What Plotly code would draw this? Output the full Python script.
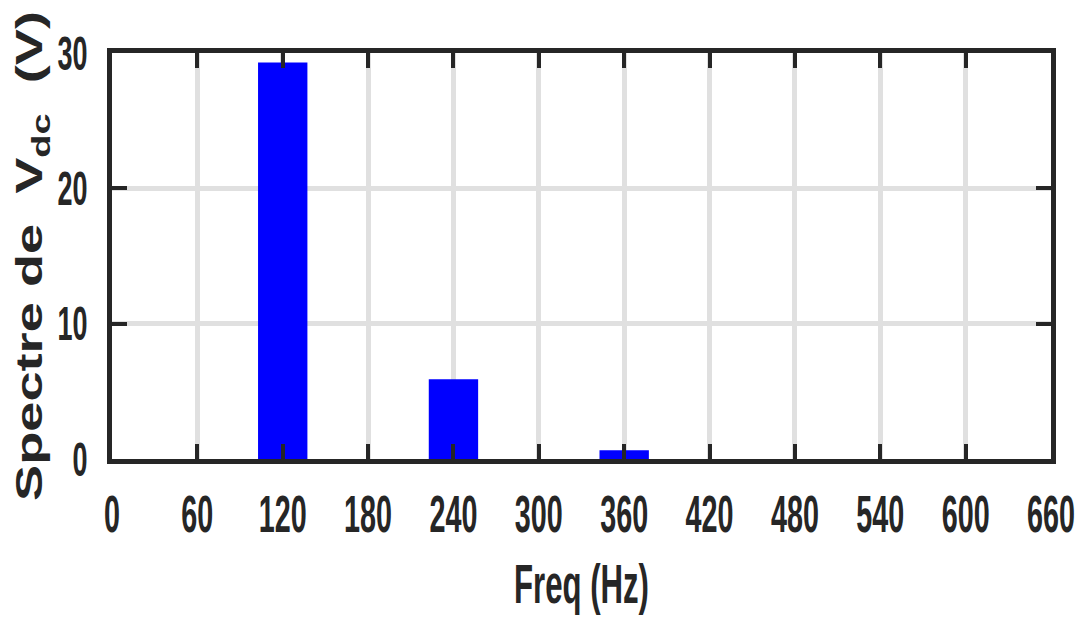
import plotly.graph_objects as go

# Harmonic spectrum of the DC-link voltage
freq_hz = [120, 240, 360]
amplitude_v = [29.3, 5.9, 0.64]
x_ticks = [0, 60, 120, 180, 240, 300, 360, 420, 480, 540, 600, 660]
y_ticks = [0, 10, 20, 30]

dark = "#262626"
sans = "Liberation Sans, Arial, Helvetica, sans-serif"

fig = go.Figure(
    go.Bar(
        x=freq_hz,
        y=amplitude_v,
        width=34.7,
        marker=dict(color="#0000ff", line=dict(width=0)),
    )
)

axis_common = dict(
    showline=True,
    linecolor=dark,
    linewidth=5,
    mirror="ticks",
    ticks="inside",
    ticklen=15,
    tickwidth=4,
    tickcolor=dark,
    showgrid=True,
    gridcolor="#e0e0e0",
    gridwidth=5,
    zeroline=False,
    automargin=False,
    tickangle=0,
    ticklabeloverflow="allow",
)

fig.update_xaxes(
    range=[0, 660],
    tickvals=x_ticks,
    ticktext=[str(v) for v in x_ticks],
    tickfont=dict(family=sans, size=52, color=dark, weight="bold"),
    ticklabelstandoff=6,
    title=dict(
        text="Freq (Hz)",
        font=dict(family=sans, size=56, color=dark, weight="bold"),
        standoff=23,
    ),
    **axis_common,
)
fig.update_yaxes(
    range=[0, 30],
    tickvals=y_ticks,
    ticktext=[str(v) for v in y_ticks],
    tickfont=dict(family=sans, size=48, color=dark, weight="bold"),
    ticklabelstandoff=10,
    title=dict(
        text="Spectre de  V<sub>dc</sub>  (V)",
        font=dict(family=sans, size=36, color=dark, weight="bold"),
        standoff=6,
    ),
    **axis_common,
)

fig.update_layout(
    width=1080,
    height=622,
    margin=dict(l=112, r=29, t=53, b=163),
    plot_bgcolor="white",
    paper_bgcolor="white",
    showlegend=False,
)

# Condensed tick and x-title lettering, widened y-title lettering
post_js = """
(function () {
  var gd = document.getElementById('{plot_id}');
  var shift = 'translate(9,0) ';
  function setLen(el, len) {
    if (!el) return;
    el.setAttribute('textLength', len);
    el.setAttribute('lengthAdjust', 'spacingAndGlyphs');
  }
  function fit() {
    gd.querySelectorAll('.xtick text').forEach(function (t) {
      setLen(t, 16 * t.textContent.length);
    });
    gd.querySelectorAll('.ytick text').forEach(function (t) {
      setLen(t, 15 * t.textContent.length);
    });
    setLen(gd.querySelector('.g-xtitle text'), 135);
    var yt = gd.querySelector('.g-ytitle text');
    setLen(yt, 490);
    if (yt) {
      var tr = yt.getAttribute('transform') || '';
      if (tr.indexOf(shift) !== 0) yt.setAttribute('transform', shift + tr);
    }
  }
  fit();
  if (gd.on) gd.on('plotly_afterplot', fit);
})();
"""

fig.write_html("out.html", post_script=post_js)
